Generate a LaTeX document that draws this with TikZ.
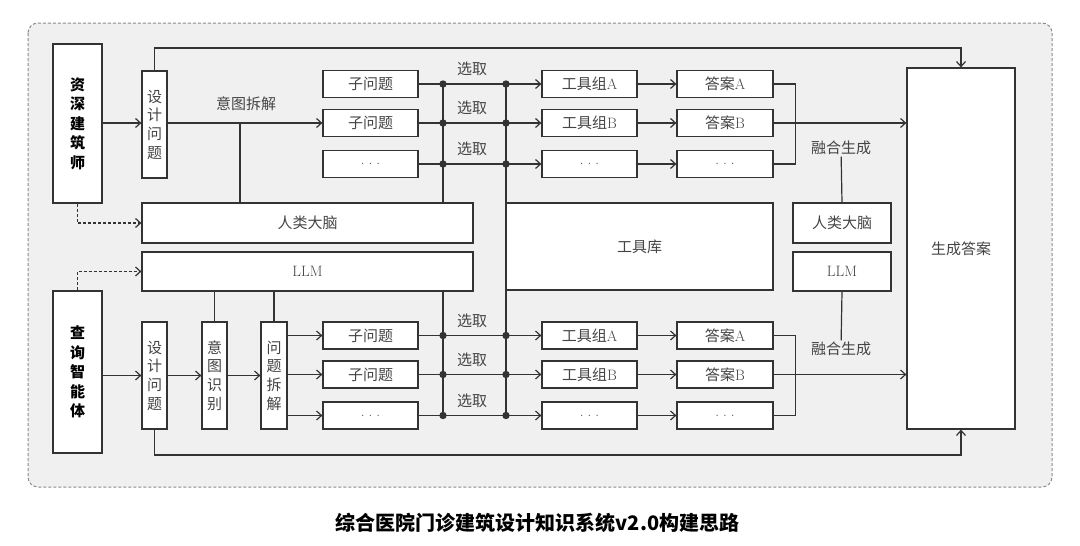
\documentclass[tikz,border=0pt]{standalone}
\usepackage{fontspec}
\newfontfamily\cjk{Noto Sans CJK SC}
\usepackage{tikz}
\usetikzlibrary{arrows.meta}
\definecolor{linec}{HTML}{333333}
\definecolor{textc}{HTML}{444444}
\definecolor{panel}{HTML}{F0F0F0}
\definecolor{rim}{HTML}{8A8A8A}
\tikzset{box/.style={draw=linec, fill=white, inner sep=0pt, text=textc, font=\cjk\fontsize{15}{18.7}\selectfont, align=center}}
\tikzset{lbl/.style={inner sep=1pt, text=textc, font=\cjk\fontsize{15}{17}\selectfont}}
\tikzset{arr/.style={-{Straight Barb[length=5pt,width=9pt]}}, dasharr/.style={arr, dash pattern=on 3pt off 2pt}}
\newcommand{\dotsx}{\rmfamily .\hspace{4pt}.\hspace{4pt}.}

\begin{document}
\begin{tikzpicture}[x=1pt, y=-1pt, line width=1.2pt, draw=linec]
\useasboundingbox (0,0) rectangle (1080,546);
\draw[rim, line width=1pt, fill=panel, rounded corners=10pt, dash pattern=on 3pt off 2pt] (28,23) rectangle (1052,487);
 % left column
 \node[box, minimum width=49pt, minimum height=159pt, text=black, font=\cjk\bfseries\fontsize{15}{19.5}\selectfont] (arch) at (77.5,123.5) {资\\深\\建\\筑\\师};
 \node[box, minimum width=49pt, minimum height=162pt, text=black, font=\cjk\bfseries\fontsize{15}{19.5}\selectfont] (agent) at (77.5,372) {查\\询\\智\\能\\体};
 \node[box, minimum width=25pt, minimum height=107pt] (dq1) at (154.5,124.5) {设\\计\\问\\题};
 \node[box, minimum width=25pt, minimum height=107pt] (dq2) at (154.5,375.5) {设\\计\\问\\题};
 \node[box, minimum width=25pt, minimum height=107pt] (ir) at (214.5,375.5) {意\\图\\识\\别};
 \node[box, minimum width=26pt, minimum height=107pt] (qd) at (274,375.5) {问\\题\\拆\\解};
 % middle band
 \node[box, minimum width=331pt, minimum height=40pt] (brain1) at (307.5,223) {人类大脑};
 \node[box, minimum width=331pt, minimum height=39pt] (llm1) at (307.5,271.5) {\rmfamily LLM};
 \node[box, minimum width=267pt, minimum height=87pt] (lib) at (639.5,246.5) {工具库};
 \node[box, minimum width=98pt, minimum height=40pt] (brain2) at (842,223) {人类大脑};
 \node[box, minimum width=98pt, minimum height=39pt] (llm2) at (842,271.5) {\rmfamily LLM};
 \node[box, minimum width=108pt, minimum height=361pt] (final) at (961,248.5) {生成答案};
 \node[lbl] (fuse1) at (841,148) {融合生成};
 \node[lbl] (fuse2) at (841,349) {融合生成};
 \node[lbl] (split1) at (246,104) {意图拆解};
 % rows of sub questions
 \foreach \h/\dy in {1/0, 2/251.5}{
  \foreach \r/\y/\q/\t/\a in {a/84/{子问题}/{工具组\rmfamily A}/{答案\rmfamily A}, b/123/{子问题}/{工具组\rmfamily B}/{答案\rmfamily B}, c/164/{\dotsx}/{\dotsx}/{\dotsx}}{
   \node[box, minimum width=95pt, minimum height=27pt] (sq\h\r) at (370.5,{\y+\dy}) {\q};
   \node[box, minimum width=95pt, minimum height=27pt] (tg\h\r) at (589.5,{\y+\dy}) {\t};
   \node[box, minimum width=96pt, minimum height=27pt] (ans\h\r) at (725,{\y+\dy}) {\a};
   \node[lbl] (pick\h\r) at (472,{\y+\dy-15}) {选取};
   \draw[arr] (sq\h\r) -- (tg\h\r);
   \draw[arr] (tg\h\r) -- (ans\h\r);
   \fill[linec] (443,{\y+\dy}) circle (3.7pt) (506,{\y+\dy}) circle (3.7pt);
  }
  \draw (ans\h a.east) -- ++(22,0) |- (ans\h c.east);
  \draw[arr] (ans\h b.east) -- (ans\h b.east -| final.west);
 }
 % columns
 \coordinate (col1) at (443,84);
 \coordinate (col2) at (506,84);
 \draw (col1) -- (col1 |- brain1.north);
 \draw (col1 |- llm1.south) -- (col1 |- sq2c);
 \draw (col2) -- (col2 |- sq2c);
 % upper flow
 \coordinate (fork) at (240,123);
 \coordinate (toprail) at (0,48);
 \coordinate (botrail) at (0,455);
 \draw[arr] (arch.east |- fork) -- (dq1.west |- fork);
 \draw[arr] (dq1.east |- fork) -- (sq1b.west);
 \draw (fork) -- (fork |- brain1.north);
 \draw[dasharr] (arch.south) |- (brain1.west);
 \draw[arr] (dq1.north) -- (dq1.north |- toprail) -| (final.north);
 \draw (fuse1) -- (brain2.north);
 \draw (llm2.south) -- (fuse2);
 % lower flow
 \draw[arr] (agent.east |- dq2) -- (dq2.west);
 \draw[arr] (dq2) -- (ir);
 \draw[arr] (ir) -- (qd);
 \draw (ir.north |- llm1.south) -- (ir.north);
 \draw (qd.north |- llm1.south) -- (qd.north);
 \foreach \r in {a,b,c}
  \draw[arr] (qd.east |- sq2\r) -- (sq2\r.west);
 \draw[dasharr] (agent.north) |- (llm1.west);
 \draw[arr] (dq2.south) -- (dq2.south |- botrail) -| (final.south);
 % caption
 \node[font=\cjk\bfseries\fontsize{20}{24}\selectfont, inner sep=0pt] (title) at (537.5,523) {综合医院门诊建筑设计知识系统v2.0构建思路};
\end{tikzpicture}
\end{document}
